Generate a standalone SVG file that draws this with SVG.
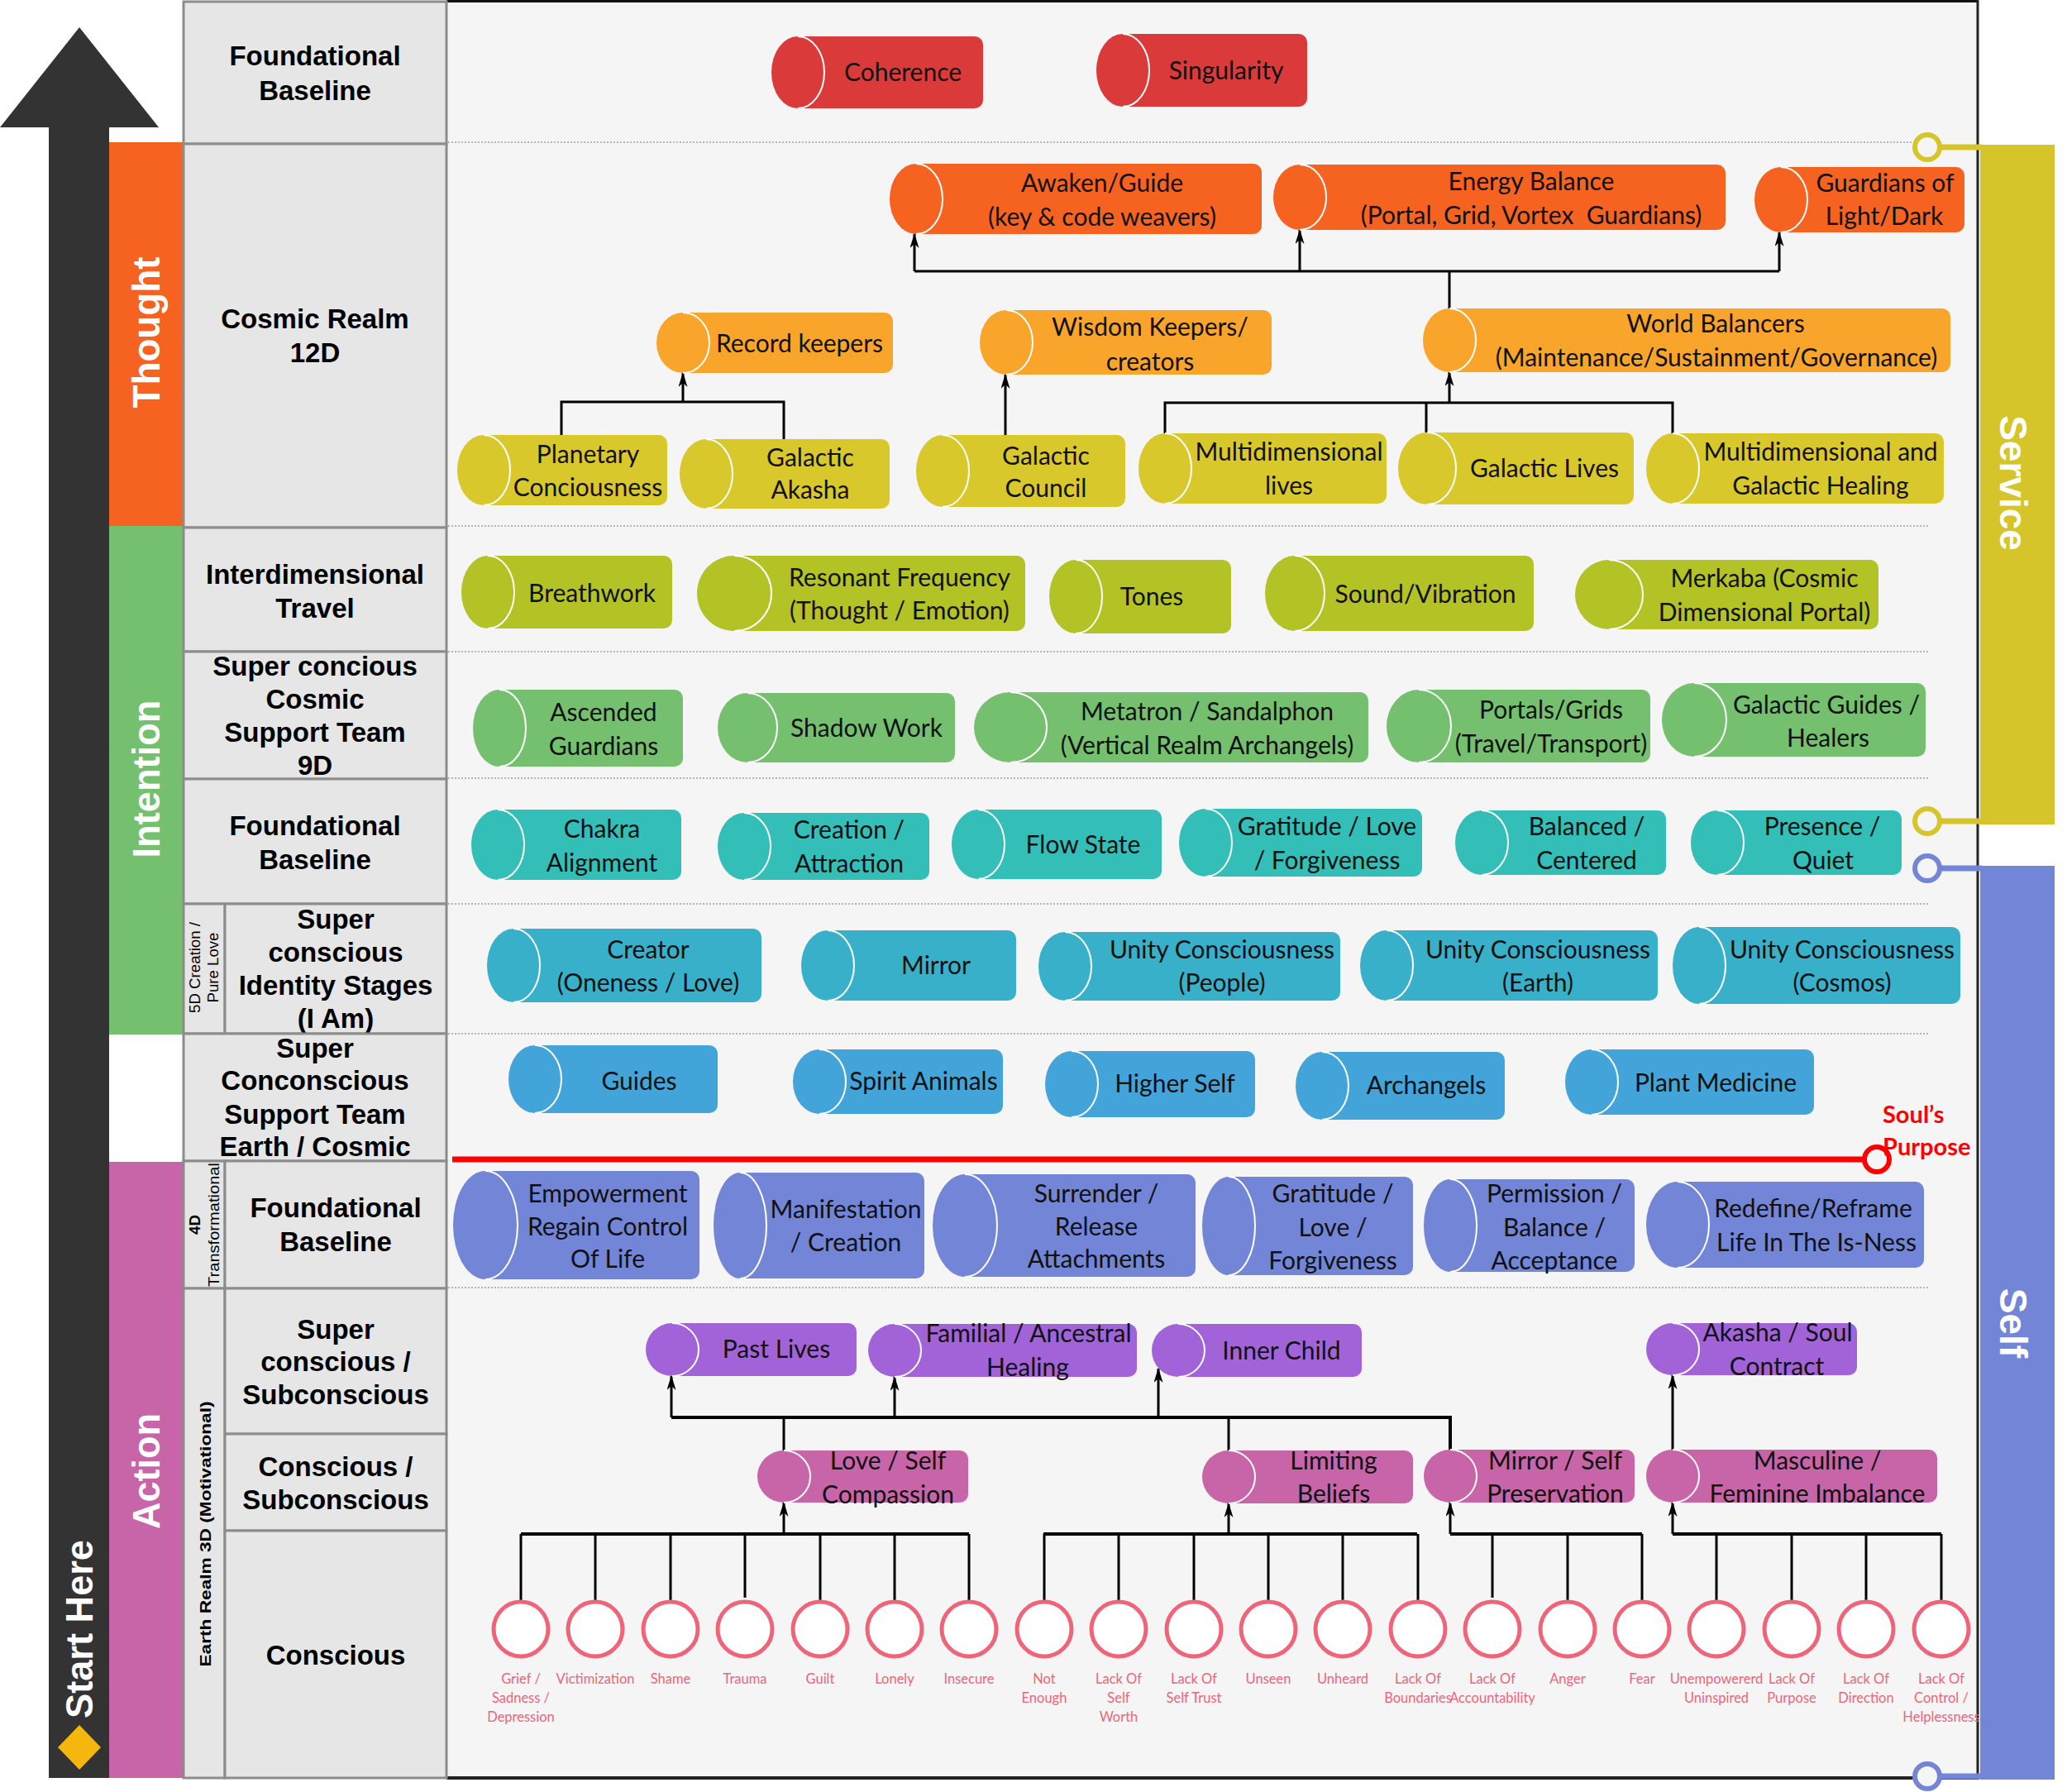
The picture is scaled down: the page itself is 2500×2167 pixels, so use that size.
<svg xmlns="http://www.w3.org/2000/svg" width="2500" height="2167" viewBox="0 0 2500 2167">
<style>
.box{fill:#E6E6E6;stroke:#8C8C8C;stroke-width:3}
.lbl{font-family:"Liberation Sans",Arial,sans-serif;font-weight:bold;font-size:33px;fill:#000;text-anchor:middle}
.band{font-family:"Liberation Sans",Arial,sans-serif;font-weight:bold;font-size:46px;fill:#fff;text-anchor:middle}
.sub{font-family:"Liberation Sans",Arial,sans-serif;font-size:18px;fill:#000;text-anchor:middle}
.ct{font-family:Lato,"Liberation Sans",sans-serif;font-size:30px;fill:#111;text-anchor:middle}
.hl{fill:none;stroke:#fff;stroke-width:2}
.conn{fill:none;stroke:#000;stroke-width:3}
.bus{fill:none;stroke:#000;stroke-width:4}
.sep{stroke:#A0A0A0;stroke-width:1.5;stroke-dasharray:2 2}
.em{fill:#fff;stroke:#EF6479;stroke-width:5}
.et{font-family:Lato,"Liberation Sans",sans-serif;font-size:16.5px;fill:#EF6479;text-anchor:middle}
.red{fill:#DB3A3A}.dor{fill:#F66321}.lor{fill:#F9A42A}.yel{fill:#D9C82C}.lim{fill:#B3C224}
.grn{fill:#75C06E}.tea{fill:#33BEB8}.cya{fill:#39B0C9}.blu{fill:#42A4D9}.per{fill:#7285D7}
.pur{fill:#A263D9}.pnk{fill:#C765A8}
</style>
<defs>
<marker id="ah" viewBox="0 0 18 11" refX="17" refY="5.5" markerWidth="18" markerHeight="11" markerUnits="userSpaceOnUse" orient="auto">
<path d="M0,0 L18,5.5 L0,11 L5,5.5 Z" fill="#000"/>
</marker>
</defs>
<rect x="0" y="0" width="2500" height="2167" fill="#fff"/>

<g id="main-arrow">
<rect x="59" y="150" width="73" height="2000" fill="#333"/>
<polygon points="0,154 96,33 192,154" fill="#333"/>
<text class="band" transform="translate(96,1970) rotate(-90)" y="16" textLength="216" lengthAdjust="spacingAndGlyphs">Start Here</text>
<polygon points="96,2086 122,2113 96,2140 70,2113" fill="#F5B70E"/>
</g>

<g id="bands">
<rect x="132" y="172" width="90" height="464" fill="#F66321"/>
<rect x="132" y="636" width="90" height="615" fill="#75C06E"/>
<rect x="132" y="1405" width="90" height="745" fill="#C765A8"/>
<text class="band" transform="translate(177,402) rotate(-90)" y="16" textLength="183" lengthAdjust="spacingAndGlyphs">Thought</text>
<text class="band" transform="translate(177,942) rotate(-90)" y="16" textLength="191" lengthAdjust="spacingAndGlyphs">Intention</text>
<text class="band" transform="translate(177,1779) rotate(-90)" y="16" textLength="140" lengthAdjust="spacingAndGlyphs">Action</text>
</g>

<g id="panel">
<rect x="540" y="2" width="1852" height="2148" fill="#F5F5F5"/>
<line x1="540" y1="1.5" x2="2393" y2="1.5" stroke="#111" stroke-width="3"/>
<line x1="2392" y1="0" x2="2392" y2="2152" stroke="#222" stroke-width="3"/>
<line x1="540" y1="2150" x2="2392" y2="2150" stroke="#222" stroke-width="4"/>
<line class="sep" x1="542" y1="172" x2="2332" y2="172"/>
<line class="sep" x1="542" y1="636" x2="2332" y2="636"/>
<line class="sep" x1="542" y1="788" x2="2332" y2="788"/>
<line class="sep" x1="542" y1="941" x2="2332" y2="941"/>
<line class="sep" x1="542" y1="1093" x2="2332" y2="1093"/>
<line class="sep" x1="542" y1="1250" x2="2332" y2="1250"/>
<line class="sep" x1="542" y1="1557" x2="2332" y2="1557"/>
</g>

<g id="row-labels">
<rect class="box" x="222" y="2" width="318" height="172"/>
<text class="lbl" x="381" y="79">Foundational</text><text class="lbl" x="381" y="121">Baseline</text>
<rect class="box" x="222" y="174" width="318" height="464"/>
<text class="lbl" x="381" y="397">Cosmic Realm</text><text class="lbl" x="381" y="438">12D</text>
<rect class="box" x="222" y="638" width="318" height="150"/>
<text class="lbl" x="381" y="706">Interdimensional</text><text class="lbl" x="381" y="747">Travel</text>
<rect class="box" x="222" y="788" width="318" height="154"/>
<text class="lbl" x="381" y="817">Super concious</text><text class="lbl" x="381" y="857">Cosmic</text><text class="lbl" x="381" y="897">Support Team</text><text class="lbl" x="381" y="937">9D</text>
<rect class="box" x="222" y="942" width="318" height="151"/>
<text class="lbl" x="381" y="1010">Foundational</text><text class="lbl" x="381" y="1051">Baseline</text>
<rect class="box" x="222" y="1093" width="50" height="157"/>
<rect class="box" x="272" y="1093" width="268" height="157"/>
<text class="sub" transform="translate(236,1170) rotate(-90)" y="6" textLength="110" lengthAdjust="spacingAndGlyphs">5D Creation /</text>
<text class="sub" transform="translate(258,1170) rotate(-90)" y="6" textLength="85" lengthAdjust="spacingAndGlyphs">Pure Love</text>
<text class="lbl" x="406" y="1123">Super</text><text class="lbl" x="406" y="1163">conscious</text><text class="lbl" x="406" y="1203">Identity Stages</text><text class="lbl" x="406" y="1243">(I Am)</text>
<rect class="box" x="222" y="1250" width="318" height="154"/>
<text class="lbl" x="381" y="1279">Super</text><text class="lbl" x="381" y="1318">Conconscious</text><text class="lbl" x="381" y="1359">Support Team</text><text class="lbl" x="381" y="1398">Earth / Cosmic</text>
<rect class="box" x="222" y="1404" width="50" height="154"/>
<rect class="box" x="272" y="1404" width="268" height="154"/>
<text class="sub" transform="translate(236,1481) rotate(-90)" y="6" font-weight="bold" textLength="24" lengthAdjust="spacingAndGlyphs">4D</text>
<text class="sub" transform="translate(259,1481) rotate(-90)" y="6" textLength="150" lengthAdjust="spacingAndGlyphs">Transformational</text>
<text class="lbl" x="406" y="1472">Foundational</text><text class="lbl" x="406" y="1513">Baseline</text>
<rect class="box" x="222" y="1558" width="50" height="592"/>
<text class="sub" transform="translate(247,1855) rotate(-90)" y="8" font-size="22" font-weight="bold" textLength="321" lengthAdjust="spacingAndGlyphs">Earth Realm 3D (Motivational)</text>
<rect class="box" x="272" y="1558" width="268" height="176"/>
<text class="lbl" x="406" y="1619">Super</text><text class="lbl" x="406" y="1658">conscious /</text><text class="lbl" x="406" y="1698">Subconscious</text>
<rect class="box" x="272" y="1734" width="268" height="117"/>
<text class="lbl" x="406" y="1785">Conscious /</text><text class="lbl" x="406" y="1825">Subconscious</text>
<rect class="box" x="272" y="1851" width="268" height="299"/>
<text class="lbl" x="406" y="2013">Conscious</text>
</g>

<g id="side-bars">
<rect x="2395" y="175" width="90" height="822" fill="#D5C52B"/>
<rect x="2395" y="1047" width="90" height="1105" fill="#7285D7"/>
<text class="band" transform="translate(2435,584) rotate(90)" y="16">Service</text>
<text class="band" transform="translate(2435,1600) rotate(90)" y="16">Self</text>
<line x1="2346" y1="178" x2="2397" y2="178" stroke="#D5C52B" stroke-width="7"/>
<circle cx="2331" cy="178" r="15" fill="#F5F5F5" stroke="#D5C52B" stroke-width="6"/>
<line x1="2346" y1="993" x2="2397" y2="993" stroke="#D5C52B" stroke-width="7"/>
<circle cx="2331" cy="993" r="15" fill="#F5F5F5" stroke="#D5C52B" stroke-width="6"/>
<line x1="2346" y1="1050" x2="2397" y2="1050" stroke="#7285D7" stroke-width="7"/>
<circle cx="2331" cy="1050" r="15" fill="#F5F5F5" stroke="#7285D7" stroke-width="6"/>
<line x1="2346" y1="2148" x2="2397" y2="2148" stroke="#7285D7" stroke-width="7"/>
<circle cx="2331" cy="2148" r="15" fill="#F5F5F5" stroke="#7285D7" stroke-width="6"/>
</g>

<g id="souls-purpose">
<line x1="547" y1="1402" x2="2254" y2="1402" stroke="#FF0000" stroke-width="7"/>
<circle cx="2270" cy="1402" r="15" fill="#F5F5F5" stroke="#FF0000" stroke-width="6"/>
<text x="2277" y="1358" font-family="Lato,'Liberation Sans',sans-serif" font-weight="bold" font-size="29" fill="#FF0000">Soul’s</text>
<text x="2277" y="1397" font-family="Lato,'Liberation Sans',sans-serif" font-weight="bold" font-size="29" fill="#FF0000">Purpose</text>
</g>

<g id="connectors">
<path class="conn" d="M679,526 V486 H948 V531"/>
<path class="conn" d="M826,486 V451" marker-end="url(#ah)"/>
<path class="conn" d="M1216,526 V453" marker-end="url(#ah)"/>
<path class="conn" d="M1409,524 V487 H2023 V524 M1725,487 V523"/>
<path class="conn" d="M1753,487 V450" marker-end="url(#ah)"/>
<path class="conn" d="M1753,373 V328 M1106,328 H2152"/>
<path class="conn" d="M1106,328 V283" marker-end="url(#ah)"/>
<path class="conn" d="M1572,328 V278" marker-end="url(#ah)"/>
<path class="conn" d="M2152,328 V281" marker-end="url(#ah)"/>

<path class="bus" d="M812,1714 H1754 V1753"/>
<path class="conn" d="M948,1754 V1714 M1486,1754 V1714"/>
<path class="conn" d="M812,1714 V1664" marker-end="url(#ah)"/>
<path class="conn" d="M1082,1714 V1665" marker-end="url(#ah)"/>
<path class="conn" d="M1401,1714 V1655" marker-end="url(#ah)"/>
<path class="conn" d="M2023,1753 V1663" marker-end="url(#ah)"/>

<path class="bus" d="M630,1855 H1172 M1262,1855 H1714 M1754,1855 H1986 M2023,1855 H2348"/>
<path class="conn" d="M630,1855 V1935 M720,1855 V1935 M811,1855 V1935 M901,1855 V1932 M992,1855 V1935 M1082,1855 V1935 M1172,1855 V1935"/>
<path class="conn" d="M1263,1855 V1935 M1353,1855 V1935 M1444,1855 V1935 M1534,1855 V1935 M1624,1855 V1935 M1715,1855 V1935"/>
<path class="conn" d="M1805,1855 V1932 M1896,1855 V1935 M1986,1855 V1935"/>
<path class="conn" d="M2076,1855 V1935 M2167,1855 V1935 M2257,1855 V1935 M2348,1855 V1935"/>
<path class="conn" d="M948,1855 V1817" marker-end="url(#ah)"/>
<path class="conn" d="M1486,1855 V1818" marker-end="url(#ah)"/>
<path class="conn" d="M1754,1855 V1817" marker-end="url(#ah)"/>
<path class="conn" d="M2023,1855 V1817" marker-end="url(#ah)"/>
</g>

<g id="coherence" class="red"><path d="M965,44 H1179 A10,10 0 0 1 1189,54 V121 A10,10 0 0 1 1179,131 H965 Z"/><ellipse cx="965" cy="87.5" rx="32" ry="43.5"/><path class="hl" d="M965,44 A32,43.5 0 0 1 965,131"/><text class="ct" x="1092" y="98">Coherence</text></g>
<g id="singularity" class="red"><path d="M1358,41 H1571 A10,10 0 0 1 1581,51 V119 A10,10 0 0 1 1571,129 H1358 Z"/><ellipse cx="1358" cy="85" rx="32" ry="44"/><path class="hl" d="M1358,41 A32,44 0 0 1 1358,129"/><text class="ct" x="1483" y="96">Singularity</text></g>

<g id="awaken" class="dor"><path d="M1108,198 H1516 A10,10 0 0 1 1526,208 V273 A10,10 0 0 1 1516,283 H1108 Z"/><ellipse cx="1108" cy="240.5" rx="32" ry="42.5"/><path class="hl" d="M1108,198 A32,42.5 0 0 1 1108,283"/><text class="ct" x="1333" y="232">Awaken/Guide</text><text class="ct" x="1333" y="273">(key &amp; code weavers)</text></g>
<g id="energy" class="dor"><path d="M1572,199 H2077 A10,10 0 0 1 2087,209 V268 A10,10 0 0 1 2077,278 H1572 Z"/><ellipse cx="1572" cy="238.5" rx="32" ry="39.5"/><path class="hl" d="M1572,199 A32,39.5 0 0 1 1572,278"/><text class="ct" x="1852" y="230">Energy Balance</text><text class="ct" x="1852" y="271">(Portal, Grid, Vortex&#160; Guardians)</text></g>
<g id="guardians" class="dor"><path d="M2154,202 H2366 A10,10 0 0 1 2376,212 V271 A10,10 0 0 1 2366,281 H2154 Z"/><ellipse cx="2154" cy="241.5" rx="32" ry="39.5"/><path class="hl" d="M2154,202 A32,39.5 0 0 1 2154,281"/><text class="ct" x="2280" y="232">Guardians of</text><text class="ct" x="2279" y="272">Light/Dark</text></g>

<g id="record-keepers" class="lor"><path d="M826,378 H1070 A10,10 0 0 1 1080,388 V441 A10,10 0 0 1 1070,451 H826 Z"/><ellipse cx="826" cy="414.5" rx="32" ry="36.5"/><path class="hl" d="M826,378 A32,36.5 0 0 1 826,451"/><text class="ct" x="967" y="426">Record keepers</text></g>
<g id="wisdom-keepers" class="lor"><path d="M1217,375 H1528 A10,10 0 0 1 1538,385 V443 A10,10 0 0 1 1528,453 H1217 Z"/><ellipse cx="1217" cy="414" rx="32" ry="39"/><path class="hl" d="M1217,375 A32,39 0 0 1 1217,453"/><text class="ct" x="1391" y="406">Wisdom Keepers/</text><text class="ct" x="1391" y="448">creators</text></g>
<g id="world-balancers" class="lor"><path d="M1753,373 H2349 A10,10 0 0 1 2359,383 V440 A10,10 0 0 1 2349,450 H1753 Z"/><ellipse cx="1753" cy="411.5" rx="32" ry="38.5"/><path class="hl" d="M1753,373 A32,38.5 0 0 1 1753,450"/><text class="ct" x="2075" y="402">World Balancers</text><text class="ct" x="2076" y="443">(Maintenance/Sustainment/Governance)</text></g>

<g id="planetary" class="yel"><path d="M585,526 H797 A10,10 0 0 1 807,536 V601 A10,10 0 0 1 797,611 H585 Z"/><ellipse cx="585" cy="568.5" rx="32" ry="42.5"/><path class="hl" d="M585,526 A32,42.5 0 0 1 585,611"/><text class="ct" x="711" y="560">Planetary</text><text class="ct" x="711" y="600">Conciousness</text></g>
<g id="galactic-akasha" class="yel"><path d="M854,531 H1066 A10,10 0 0 1 1076,541 V605 A10,10 0 0 1 1066,615 H854 Z"/><ellipse cx="854" cy="573" rx="32" ry="42"/><path class="hl" d="M854,531 A32,42 0 0 1 854,615"/><text class="ct" x="980" y="564">Galactic</text><text class="ct" x="980" y="603">Akasha</text></g>
<g id="galactic-council" class="yel"><path d="M1140,526 H1351 A10,10 0 0 1 1361,536 V603 A10,10 0 0 1 1351,613 H1140 Z"/><ellipse cx="1140" cy="569.5" rx="32" ry="43.5"/><path class="hl" d="M1140,526 A32,43.5 0 0 1 1140,613"/><text class="ct" x="1265" y="562">Galactic</text><text class="ct" x="1265" y="601">Council</text></g>
<g id="multidimensional-lives" class="yel"><path d="M1409,524 H1667 A10,10 0 0 1 1677,534 V599 A10,10 0 0 1 1667,609 H1409 Z"/><ellipse cx="1409" cy="566.5" rx="32" ry="42.5"/><path class="hl" d="M1409,524 A32,42.5 0 0 1 1409,609"/><text class="ct" x="1559" y="557">Multidimensional</text><text class="ct" x="1559" y="598">lives</text></g>
<g id="galactic-lives" class="yel"><path d="M1726,523 H1966 A10,10 0 0 1 1976,533 V600 A10,10 0 0 1 1966,610 H1726 Z"/><ellipse cx="1726" cy="566.5" rx="35" ry="43.5"/><path class="hl" d="M1726,523 A35,43.5 0 0 1 1726,610"/><text class="ct" x="1868" y="577">Galactic Lives</text></g>
<g id="galactic-healing" class="yel"><path d="M2023,524 H2341 A10,10 0 0 1 2351,534 V599 A10,10 0 0 1 2341,609 H2023 Z"/><ellipse cx="2023" cy="566.5" rx="32" ry="42.5"/><path class="hl" d="M2023,524 A32,42.5 0 0 1 2023,609"/><text class="ct" x="2202" y="557">Multidimensional and</text><text class="ct" x="2202" y="598">Galactic Healing</text></g>

<g id="breathwork" class="lim"><path d="M590,672 H803 A10,10 0 0 1 813,682 V750 A10,10 0 0 1 803,760 H590 Z"/><ellipse cx="590" cy="716" rx="32" ry="44"/><path class="hl" d="M590,672 A32,44 0 0 1 590,760"/><text class="ct" x="716" y="728">Breathwork</text></g>
<g id="resonant" class="lim"><path d="M888,672 H1230 A10,10 0 0 1 1240,682 V753 A10,10 0 0 1 1230,763 H888 Z"/><ellipse cx="888" cy="717.5" rx="45" ry="45.5"/><path class="hl" d="M888,672 A45,45.5 0 0 1 888,763"/><text class="ct" x="1088" y="709">Resonant Frequency</text><text class="ct" x="1088" y="749">(Thought / Emotion)</text></g>
<g id="tones" class="lim"><path d="M1301,677 H1479 A10,10 0 0 1 1489,687 V756 A10,10 0 0 1 1479,766 H1301 Z"/><ellipse cx="1301" cy="721.5" rx="32" ry="44.5"/><path class="hl" d="M1301,677 A32,44.5 0 0 1 1301,766"/><text class="ct" x="1393" y="732">Tones</text></g>
<g id="sound" class="lim"><path d="M1566,672 H1845 A10,10 0 0 1 1855,682 V753 A10,10 0 0 1 1845,763 H1566 Z"/><ellipse cx="1566" cy="717.5" rx="36" ry="45.5"/><path class="hl" d="M1566,672 A36,45.5 0 0 1 1566,763"/><text class="ct" x="1724" y="729">Sound/Vibration</text></g>
<g id="merkaba" class="lim"><path d="M1946,677 H2262 A10,10 0 0 1 2272,687 V751 A10,10 0 0 1 2262,761 H1946 Z"/><ellipse cx="1946" cy="719" rx="41" ry="42"/><path class="hl" d="M1946,677 A41,42 0 0 1 1946,761"/><text class="ct" x="2134" y="710">Merkaba (Cosmic</text><text class="ct" x="2134" y="751">Dimensional Portal)</text></g>

<g id="ascended" class="grn"><path d="M604,834 H816 A10,10 0 0 1 826,844 V917 A10,10 0 0 1 816,927 H604 Z"/><ellipse cx="604" cy="880.5" rx="32" ry="46.5"/><path class="hl" d="M604,834 A32,46.5 0 0 1 604,927"/><text class="ct" x="730" y="872">Ascended</text><text class="ct" x="730" y="913">Guardians</text></g>
<g id="shadow-work" class="grn"><path d="M904,838 H1145 A10,10 0 0 1 1155,848 V912 A10,10 0 0 1 1145,922 H904 Z"/><ellipse cx="904" cy="880" rx="36" ry="42"/><path class="hl" d="M904,838 A36,42 0 0 1 904,922"/><text class="ct" x="1048" y="891">Shadow Work</text></g>
<g id="metatron" class="grn"><path d="M1222,837 H1645 A10,10 0 0 1 1655,847 V912 A10,10 0 0 1 1645,922 H1222 Z"/><ellipse cx="1222" cy="879.5" rx="44" ry="42.5"/><path class="hl" d="M1222,837 A44,42.5 0 0 1 1222,922"/><text class="ct" x="1460" y="871">Metatron / Sandalphon</text><text class="ct" x="1460" y="912">(Vertical Realm Archangels)</text></g>
<g id="portals" class="grn"><path d="M1716,834 H1986 A10,10 0 0 1 1996,844 V912 A10,10 0 0 1 1986,922 H1716 Z"/><ellipse cx="1716" cy="878" rx="39" ry="44"/><path class="hl" d="M1716,834 A39,44 0 0 1 1716,922"/><text class="ct" x="1876" y="869">Portals/Grids</text><text class="ct" x="1876" y="910">(Travel/Transport)</text></g>
<g id="galactic-guides" class="grn"><path d="M2049,826 H2319 A10,10 0 0 1 2329,836 V905 A10,10 0 0 1 2319,915 H2049 Z"/><ellipse cx="2049" cy="870.5" rx="39" ry="44.5"/><path class="hl" d="M2049,826 A39,44.5 0 0 1 2049,915"/><text class="ct" x="2209" y="863">Galactic Guides /</text><text class="ct" x="2211" y="903">Healers</text></g>

<g id="chakra" class="tea"><path d="M602,979 H814 A10,10 0 0 1 824,989 V1054 A10,10 0 0 1 814,1064 H602 Z"/><ellipse cx="602" cy="1021.5" rx="32" ry="42.5"/><path class="hl" d="M602,979 A32,42.5 0 0 1 602,1064"/><text class="ct" x="728" y="1013">Chakra</text><text class="ct" x="728" y="1054">Alignment</text></g>
<g id="creation" class="tea"><path d="M900,983 H1114 A10,10 0 0 1 1124,993 V1054 A10,10 0 0 1 1114,1064 H900 Z"/><ellipse cx="900" cy="1023.5" rx="32" ry="40.5"/><path class="hl" d="M900,983 A32,40.5 0 0 1 900,1064"/><text class="ct" x="1027" y="1014">Creation /</text><text class="ct" x="1027" y="1055">Attraction</text></g>
<g id="flow-state" class="tea"><path d="M1183,979 H1395 A10,10 0 0 1 1405,989 V1053 A10,10 0 0 1 1395,1063 H1183 Z"/><ellipse cx="1183" cy="1021" rx="32" ry="42"/><path class="hl" d="M1183,979 A32,42 0 0 1 1183,1063"/><text class="ct" x="1310" y="1032">Flow State</text></g>
<g id="gratitude-love" class="tea"><path d="M1458,978 H1710 A10,10 0 0 1 1720,988 V1050 A10,10 0 0 1 1710,1060 H1458 Z"/><ellipse cx="1458" cy="1019" rx="32" ry="41"/><path class="hl" d="M1458,978 A32,41 0 0 1 1458,1060"/><text class="ct" x="1605" y="1010">Gratitude / Love</text><text class="ct" x="1605" y="1051">/ Forgiveness</text></g>
<g id="balanced" class="tea"><path d="M1792,980 H2005 A10,10 0 0 1 2015,990 V1048 A10,10 0 0 1 2005,1058 H1792 Z"/><ellipse cx="1792" cy="1019" rx="32" ry="39"/><path class="hl" d="M1792,980 A32,39 0 0 1 1792,1058"/><text class="ct" x="1919" y="1010">Balanced /</text><text class="ct" x="1919" y="1051">Centered</text></g>
<g id="presence" class="tea"><path d="M2077,980 H2290 A10,10 0 0 1 2300,990 V1048 A10,10 0 0 1 2290,1058 H2077 Z"/><ellipse cx="2077" cy="1019" rx="32" ry="39"/><path class="hl" d="M2077,980 A32,39 0 0 1 2077,1058"/><text class="ct" x="2204" y="1010">Presence /</text><text class="ct" x="2205" y="1051">Quiet</text></g>

<g id="creator" class="cya"><path d="M621,1123 H911 A10,10 0 0 1 921,1133 V1202 A10,10 0 0 1 911,1212 H621 Z"/><ellipse cx="621" cy="1167.5" rx="32" ry="44.5"/><path class="hl" d="M621,1123 A32,44.5 0 0 1 621,1212"/><text class="ct" x="784" y="1159">Creator</text><text class="ct" x="784" y="1199">(Oneness / Love)</text></g>
<g id="mirror" class="cya"><path d="M1001,1125 H1219 A10,10 0 0 1 1229,1135 V1200 A10,10 0 0 1 1219,1210 H1001 Z"/><ellipse cx="1001" cy="1167.5" rx="32" ry="42.5"/><path class="hl" d="M1001,1125 A32,42.5 0 0 1 1001,1210"/><text class="ct" x="1132" y="1178">Mirror</text></g>
<g id="unity-people" class="cya"><path d="M1288,1127 H1611 A10,10 0 0 1 1621,1137 V1200 A10,10 0 0 1 1611,1210 H1288 Z"/><ellipse cx="1288" cy="1168.5" rx="32" ry="41.5"/><path class="hl" d="M1288,1127 A32,41.5 0 0 1 1288,1210"/><text class="ct" x="1478" y="1159">Unity Consciousness</text><text class="ct" x="1478" y="1199">(People)</text></g>
<g id="unity-earth" class="cya"><path d="M1677,1125 H1995 A10,10 0 0 1 2005,1135 V1200 A10,10 0 0 1 1995,1210 H1677 Z"/><ellipse cx="1677" cy="1167.5" rx="32" ry="42.5"/><path class="hl" d="M1677,1125 A32,42.5 0 0 1 1677,1210"/><text class="ct" x="1860" y="1159">Unity Consciousness</text><text class="ct" x="1860" y="1199">(Earth)</text></g>
<g id="unity-cosmos" class="cya"><path d="M2055,1121 H2361 A10,10 0 0 1 2371,1131 V1204 A10,10 0 0 1 2361,1214 H2055 Z"/><ellipse cx="2055" cy="1167.5" rx="32" ry="46.5"/><path class="hl" d="M2055,1121 A32,46.5 0 0 1 2055,1214"/><text class="ct" x="2228" y="1159">Unity Consciousness</text><text class="ct" x="2228" y="1199">(Cosmos)</text></g>

<g id="guides" class="blu"><path d="M647,1264 H858 A10,10 0 0 1 868,1274 V1336 A10,10 0 0 1 858,1346 H647 Z"/><ellipse cx="647" cy="1305" rx="32" ry="41"/><path class="hl" d="M647,1264 A32,41 0 0 1 647,1346"/><text class="ct" x="773" y="1318">Guides</text></g>
<g id="spirit-animals" class="blu"><path d="M991,1269 H1203 A10,10 0 0 1 1213,1279 V1337 A10,10 0 0 1 1203,1347 H991 Z"/><ellipse cx="991" cy="1308" rx="32" ry="39"/><path class="hl" d="M991,1269 A32,39 0 0 1 991,1347"/><text class="ct" x="1117" y="1318">Spirit Animals</text></g>
<g id="higher-self" class="blu"><path d="M1296,1271 H1508 A10,10 0 0 1 1518,1281 V1341 A10,10 0 0 1 1508,1351 H1296 Z"/><ellipse cx="1296" cy="1311" rx="32" ry="40"/><path class="hl" d="M1296,1271 A32,40 0 0 1 1296,1351"/><text class="ct" x="1421" y="1321">Higher Self</text></g>
<g id="archangels" class="blu"><path d="M1599,1272 H1810 A10,10 0 0 1 1820,1282 V1344 A10,10 0 0 1 1810,1354 H1599 Z"/><ellipse cx="1599" cy="1313" rx="32" ry="41"/><path class="hl" d="M1599,1272 A32,41 0 0 1 1599,1354"/><text class="ct" x="1725" y="1323">Archangels</text></g>
<g id="plant-medicine" class="blu"><path d="M1925,1269 H2184 A10,10 0 0 1 2194,1279 V1338 A10,10 0 0 1 2184,1348 H1925 Z"/><ellipse cx="1925" cy="1308.5" rx="32" ry="39.5"/><path class="hl" d="M1925,1269 A32,39.5 0 0 1 1925,1348"/><text class="ct" x="2075" y="1320">Plant Medicine</text></g>

<g id="empowerment" class="per"><path d="M587,1416 H836 A10,10 0 0 1 846,1426 V1537 A10,10 0 0 1 836,1547 H587 Z"/><ellipse cx="587" cy="1481.5" rx="39" ry="65.5"/><path class="hl" d="M587,1416 A39,65.5 0 0 1 587,1547"/><text class="ct" x="735" y="1454">Empowerment</text><text class="ct" x="735" y="1494">Regain Control</text><text class="ct" x="735" y="1533">Of Life</text></g>
<g id="manifestation" class="per"><path d="M895,1418 H1108 A10,10 0 0 1 1118,1428 V1536 A10,10 0 0 1 1108,1546 H895 Z"/><ellipse cx="895" cy="1482" rx="32" ry="64"/><path class="hl" d="M895,1418 A32,64 0 0 1 895,1546"/><text class="ct" x="1023" y="1473">Manifestation</text><text class="ct" x="1023" y="1513">/ Creation</text></g>
<g id="surrender" class="per"><path d="M1167,1420 H1436 A10,10 0 0 1 1446,1430 V1534 A10,10 0 0 1 1436,1544 H1167 Z"/><ellipse cx="1167" cy="1482" rx="39" ry="62"/><path class="hl" d="M1167,1420 A39,62 0 0 1 1167,1544"/><text class="ct" x="1326" y="1454">Surrender /</text><text class="ct" x="1326" y="1494">Release</text><text class="ct" x="1326" y="1533">Attachments</text></g>
<g id="gratitude-forgiveness" class="per"><path d="M1486,1423 H1699 A10,10 0 0 1 1709,1433 V1532 A10,10 0 0 1 1699,1542 H1486 Z"/><ellipse cx="1486" cy="1482.5" rx="32" ry="59.5"/><path class="hl" d="M1486,1423 A32,59.5 0 0 1 1486,1542"/><text class="ct" x="1612" y="1454">Gratitude /</text><text class="ct" x="1612" y="1495">Love /</text><text class="ct" x="1612" y="1535">Forgiveness</text></g>
<g id="permission" class="per"><path d="M1754,1426 H1967 A10,10 0 0 1 1977,1436 V1528 A10,10 0 0 1 1967,1538 H1754 Z"/><ellipse cx="1754" cy="1482" rx="32" ry="56"/><path class="hl" d="M1754,1426 A32,56 0 0 1 1754,1538"/><text class="ct" x="1880" y="1454">Permission /</text><text class="ct" x="1880" y="1495">Balance /</text><text class="ct" x="1880" y="1535">Acceptance</text></g>
<g id="redefine" class="per"><path d="M2029,1429 H2317 A10,10 0 0 1 2327,1439 V1523 A10,10 0 0 1 2317,1533 H2029 Z"/><ellipse cx="2029" cy="1481" rx="38" ry="52"/><path class="hl" d="M2029,1429 A38,52 0 0 1 2029,1533"/><text class="ct" x="2193" y="1472">Redefine/Reframe</text><text class="ct" x="2197" y="1513">Life In The Is-Ness</text></g>

<g id="past-lives" class="pur"><path d="M813,1600 H1026 A10,10 0 0 1 1036,1610 V1654 A10,10 0 0 1 1026,1664 H813 Z"/><ellipse cx="813" cy="1632" rx="32" ry="32"/><path class="hl" d="M813,1600 A32,32 0 0 1 813,1664"/><text class="ct" x="939" y="1642">Past Lives</text></g>
<g id="familial" class="pur"><path d="M1082,1601 H1365 A10,10 0 0 1 1375,1611 V1655 A10,10 0 0 1 1365,1665 H1082 Z"/><ellipse cx="1082" cy="1633" rx="32" ry="32"/><path class="hl" d="M1082,1601 A32,32 0 0 1 1082,1665"/><text class="ct" x="1244" y="1623">Familial / Ancestral</text><text class="ct" x="1243" y="1664">Healing</text></g>
<g id="inner-child" class="pur"><path d="M1425,1601 H1637 A10,10 0 0 1 1647,1611 V1655 A10,10 0 0 1 1637,1665 H1425 Z"/><ellipse cx="1425" cy="1633" rx="32" ry="32"/><path class="hl" d="M1425,1601 A32,32 0 0 1 1425,1665"/><text class="ct" x="1550" y="1644">Inner Child</text></g>
<g id="akasha-soul" class="pur"><path d="M2023,1600 H2236 A10,10 0 0 1 2246,1610 V1653 A10,10 0 0 1 2236,1663 H2023 Z"/><ellipse cx="2023" cy="1631.5" rx="32" ry="31.5"/><path class="hl" d="M2023,1600 A32,31.5 0 0 1 2023,1663"/><text class="ct" x="2150" y="1622">Akasha / Soul</text><text class="ct" x="2149" y="1663">Contract</text></g>

<g id="love-self" class="pnk"><path d="M948,1754 H1161 A10,10 0 0 1 1171,1764 V1807 A10,10 0 0 1 1161,1817 H948 Z"/><ellipse cx="948" cy="1785.5" rx="32" ry="31.5"/><path class="hl" d="M948,1754 A32,31.5 0 0 1 948,1817"/><text class="ct" x="1074" y="1777">Love / Self</text><text class="ct" x="1074" y="1818">Compassion</text></g>
<g id="limiting" class="pnk"><path d="M1486,1754 H1699 A10,10 0 0 1 1709,1764 V1808 A10,10 0 0 1 1699,1818 H1486 Z"/><ellipse cx="1486" cy="1786" rx="32" ry="32"/><path class="hl" d="M1486,1754 A32,32 0 0 1 1486,1818"/><text class="ct" x="1613" y="1777">Limiting</text><text class="ct" x="1613" y="1817">Beliefs</text></g>
<g id="mirror-self" class="pnk"><path d="M1754,1753 H1967 A10,10 0 0 1 1977,1763 V1807 A10,10 0 0 1 1967,1817 H1754 Z"/><ellipse cx="1754" cy="1785" rx="32" ry="32"/><path class="hl" d="M1754,1753 A32,32 0 0 1 1754,1817"/><text class="ct" x="1881" y="1777">Mirror / Self</text><text class="ct" x="1881" y="1817">Preservation</text></g>
<g id="masculine" class="pnk"><path d="M2023,1753 H2333 A10,10 0 0 1 2343,1763 V1807 A10,10 0 0 1 2333,1817 H2023 Z"/><ellipse cx="2023" cy="1785" rx="32" ry="32"/><path class="hl" d="M2023,1753 A32,32 0 0 1 2023,1817"/><text class="ct" x="2198" y="1777">Masculine /</text><text class="ct" x="2198" y="1817">Feminine Imbalance</text></g>

<g id="emotions">
<g id="e-grief"><circle class="em" cx="630" cy="1970" r="33"/><text class="et" x="630" y="2036">Grief /</text><text class="et" x="630" y="2059">Sadness /</text><text class="et" x="630" y="2082">Depression</text></g>
<g id="e-victimization"><circle class="em" cx="720" cy="1970" r="33"/><text class="et" x="720" y="2036">Victimization</text></g>
<g id="e-shame"><circle class="em" cx="811" cy="1970" r="33"/><text class="et" x="811" y="2036">Shame</text></g>
<g id="e-trauma"><circle class="em" cx="901" cy="1970" r="33"/><text class="et" x="901" y="2036">Trauma</text></g>
<g id="e-guilt"><circle class="em" cx="992" cy="1970" r="33"/><text class="et" x="992" y="2036">Guilt</text></g>
<g id="e-lonely"><circle class="em" cx="1082" cy="1970" r="33"/><text class="et" x="1082" y="2036">Lonely</text></g>
<g id="e-insecure"><circle class="em" cx="1172" cy="1970" r="33"/><text class="et" x="1172" y="2036">Insecure</text></g>
<g id="e-not-enough"><circle class="em" cx="1263" cy="1970" r="33"/><text class="et" x="1263" y="2036">Not</text><text class="et" x="1263" y="2059">Enough</text></g>
<g id="e-self-worth"><circle class="em" cx="1353" cy="1970" r="33"/><text class="et" x="1353" y="2036">Lack Of</text><text class="et" x="1353" y="2059">Self</text><text class="et" x="1353" y="2082">Worth</text></g>
<g id="e-self-trust"><circle class="em" cx="1444" cy="1970" r="33"/><text class="et" x="1444" y="2036">Lack Of</text><text class="et" x="1444" y="2059">Self Trust</text></g>
<g id="e-unseen"><circle class="em" cx="1534" cy="1970" r="33"/><text class="et" x="1534" y="2036">Unseen</text></g>
<g id="e-unheard"><circle class="em" cx="1624" cy="1970" r="33"/><text class="et" x="1624" y="2036">Unheard</text></g>
<g id="e-boundaries"><circle class="em" cx="1715" cy="1970" r="33"/><text class="et" x="1715" y="2036">Lack Of</text><text class="et" x="1715" y="2059">Boundaries</text></g>
<g id="e-accountability"><circle class="em" cx="1805" cy="1970" r="33"/><text class="et" x="1805" y="2036">Lack Of</text><text class="et" x="1805" y="2059">Accountability</text></g>
<g id="e-anger"><circle class="em" cx="1896" cy="1970" r="33"/><text class="et" x="1896" y="2036">Anger</text></g>
<g id="e-fear"><circle class="em" cx="1986" cy="1970" r="33"/><text class="et" x="1986" y="2036">Fear</text></g>
<g id="e-unempowered"><circle class="em" cx="2076" cy="1970" r="33"/><text class="et" x="2076" y="2036">Unempowererd</text><text class="et" x="2076" y="2059">Uninspired</text></g>
<g id="e-purpose"><circle class="em" cx="2167" cy="1970" r="33"/><text class="et" x="2167" y="2036">Lack Of</text><text class="et" x="2167" y="2059">Purpose</text></g>
<g id="e-direction"><circle class="em" cx="2257" cy="1970" r="33"/><text class="et" x="2257" y="2036">Lack Of</text><text class="et" x="2257" y="2059">Direction</text></g>
<g id="e-control"><circle class="em" cx="2348" cy="1970" r="33"/><text class="et" x="2348" y="2036">Lack Of</text><text class="et" x="2348" y="2059">Control /</text><text class="et" x="2348" y="2082">Helplessness</text></g>
</g>
</svg>
